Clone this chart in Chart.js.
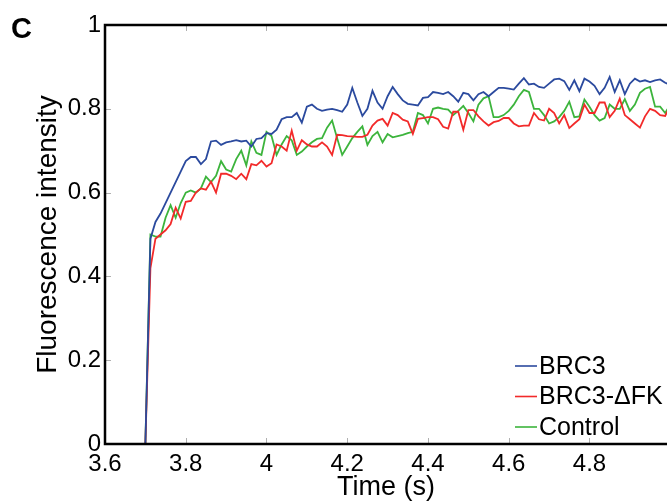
<!DOCTYPE html>
<html>
<head>
<meta charset="utf-8">
<script src="https://cdn.jsdelivr.net/npm/chart.js@4.4.1/dist/chart.umd.min.js"></script>
<style>
  html, body { margin: 0; padding: 0; background: #fff; }
  #wrap { width: 667px; height: 503px; }
</style>
</head>
<body>
<div id="wrap"><canvas id="fluoChart" width="667" height="503"></canvas></div>
<script>
// time points (s)
const times = [3.7, 3.7125, 3.725, 3.7375, 3.75, 3.7625, 3.775, 3.7875, 3.8, 3.8125,
  3.825, 3.8375, 3.85, 3.8625, 3.875, 3.8875, 3.9, 3.9125, 3.925, 3.9375,
  3.95, 3.9625, 3.975, 3.9875, 4.0, 4.0125, 4.025, 4.0375, 4.05, 4.0625,
  4.075, 4.0875, 4.1, 4.1125, 4.125, 4.1375, 4.15, 4.1625, 4.175, 4.1875,
  4.2, 4.2125, 4.225, 4.2375, 4.25, 4.2625, 4.275, 4.2875, 4.3, 4.3125,
  4.325, 4.3375, 4.35, 4.3625, 4.375, 4.3875, 4.4, 4.4125, 4.425, 4.4375,
  4.45, 4.4625, 4.475, 4.4875, 4.5, 4.5125, 4.525, 4.5375, 4.55, 4.5625,
  4.575, 4.5875, 4.6, 4.6125, 4.625, 4.6375, 4.65, 4.6625, 4.675, 4.6875,
  4.7, 4.7125, 4.725, 4.7375, 4.75, 4.7625, 4.775, 4.7875, 4.8, 4.8125,
  4.825, 4.8375, 4.85, 4.8625, 4.875, 4.8875, 4.9, 4.9125, 4.925, 4.9375,
  4.95, 4.9625, 4.975, 4.9875, 5.0];

const brc3 = [0.0, 0.49, 0.53, 0.55, 0.575, 0.60, 0.625, 0.65, 0.675, 0.685,
  0.685, 0.668, 0.68, 0.722, 0.724, 0.714, 0.72, 0.722, 0.725, 0.722,
  0.724, 0.71, 0.728, 0.73, 0.742, 0.74, 0.75, 0.775, 0.78, 0.78,
  0.79, 0.767, 0.805, 0.81, 0.80, 0.795, 0.798, 0.80, 0.797, 0.793,
  0.81, 0.85, 0.815, 0.783, 0.80, 0.843, 0.815, 0.80, 0.83, 0.852,
  0.835, 0.82, 0.812, 0.81, 0.808, 0.826, 0.828, 0.84, 0.838, 0.835,
  0.84, 0.83, 0.817, 0.838, 0.835, 0.82, 0.835, 0.84, 0.83, 0.84,
  0.85, 0.85, 0.848, 0.846, 0.86, 0.873, 0.858, 0.86, 0.852, 0.85,
  0.86, 0.87, 0.872, 0.866, 0.845, 0.868, 0.842, 0.872, 0.865, 0.855,
  0.835, 0.85, 0.876, 0.84, 0.868, 0.835, 0.86, 0.872, 0.865, 0.868,
  0.864, 0.868, 0.87, 0.862, 0.857];

const brc3dFK = [0.0, 0.42, 0.49, 0.50, 0.51, 0.525, 0.564, 0.538, 0.578, 0.58,
  0.60, 0.61, 0.607, 0.626, 0.60, 0.645, 0.645, 0.64, 0.632, 0.645,
  0.632, 0.668, 0.665, 0.676, 0.662, 0.67, 0.715, 0.71, 0.70, 0.748,
  0.70, 0.725, 0.715, 0.71, 0.71, 0.72, 0.71, 0.69, 0.738, 0.737,
  0.735, 0.734, 0.733, 0.733, 0.738, 0.76, 0.772, 0.776, 0.76, 0.79,
  0.785, 0.774, 0.77, 0.74, 0.776, 0.778, 0.78, 0.78, 0.775, 0.757,
  0.753, 0.793, 0.793, 0.75, 0.797, 0.797, 0.782, 0.77, 0.76, 0.768,
  0.771, 0.778, 0.778, 0.765, 0.758, 0.76, 0.76, 0.79, 0.775, 0.772,
  0.80, 0.79, 0.765, 0.785, 0.754, 0.765, 0.775, 0.81, 0.79, 0.79,
  0.815, 0.815, 0.78, 0.795, 0.824, 0.785, 0.775, 0.765, 0.755, 0.782,
  0.80, 0.795, 0.785, 0.783, 0.807];

const control = [0.0, 0.50, 0.495, 0.495, 0.54, 0.57, 0.54, 0.575, 0.60, 0.605,
  0.60, 0.61, 0.638, 0.625, 0.64, 0.675, 0.655, 0.65, 0.68, 0.70,
  0.665, 0.722, 0.695, 0.69, 0.745, 0.735, 0.69, 0.715, 0.735, 0.725,
  0.69, 0.698, 0.71, 0.72, 0.728, 0.73, 0.755, 0.772, 0.73, 0.69,
  0.71, 0.73, 0.745, 0.758, 0.714, 0.735, 0.745, 0.72, 0.74, 0.732,
  0.735, 0.738, 0.742, 0.745, 0.79, 0.785, 0.765, 0.80, 0.803, 0.80,
  0.798, 0.785, 0.795, 0.807, 0.79, 0.77, 0.81, 0.825, 0.83, 0.78,
  0.78, 0.785, 0.795, 0.81, 0.83, 0.845, 0.84, 0.80, 0.80, 0.785,
  0.765, 0.77, 0.78, 0.795, 0.817, 0.78, 0.782, 0.822, 0.805, 0.785,
  0.772, 0.778, 0.81, 0.80, 0.80, 0.823, 0.795, 0.81, 0.838, 0.848,
  0.852, 0.805, 0.805, 0.79, 0.81];

const xTicks = [3.6, 3.8, 4.0, 4.2, 4.4, 4.6, 4.8];
const yTicks = [0, 0.2, 0.4, 0.6, 0.8, 1];
const seriesNames = ['BRC3', 'BRC3-\u0394FK', 'Control'];
const seriesColors = ['#2b4a9e', '#f22a2a', '#3cb43c'];

const FONT = '"Liberation Sans", Arial, Helvetica, sans-serif';

function toPoints(vals) {
  return vals.map((v, i) => ({ x: times[i], y: v }));
}

// frame, inward tick marks, panel letter and legend
const decorPlugin = {
  id: 'decor',
  afterDatasetsDraw(chart) {
    const ctx = chart.ctx;
    const a = chart.chartArea;
    const xs = chart.scales.x, ys = chart.scales.y;
    ctx.save();

    // inward ticks
    ctx.strokeStyle = '#b0b0b0';
    ctx.lineWidth = 1;
    ctx.beginPath();
    xTicks.forEach(t => {
      const px = Math.round(xs.getPixelForValue(t)) + 0.5;
      ctx.moveTo(px, a.bottom); ctx.lineTo(px, a.bottom - 6);
      ctx.moveTo(px, a.top); ctx.lineTo(px, a.top + 6);
    });
    yTicks.forEach(t => {
      const py = Math.round(ys.getPixelForValue(t)) + 0.5;
      ctx.moveTo(a.left, py); ctx.lineTo(a.left + 6, py);
    });
    ctx.stroke();

    // frame (right side falls off the canvas)
    ctx.strokeStyle = '#000';
    ctx.lineWidth = 2.5;
    ctx.beginPath();
    ctx.moveTo(a.right + 5, a.top);
    ctx.lineTo(a.left, a.top);
    ctx.lineTo(a.left, a.bottom);
    ctx.lineTo(a.right + 5, a.bottom);
    ctx.stroke();

    // legend
    ctx.font = '25px ' + FONT;
    ctx.textBaseline = 'middle';
    ctx.textAlign = 'left';
    chart.data.datasets.forEach((ds, i) => {
      const y = a.bottom - 78 + i * 30.5;
      const x0 = a.right - 152;
      ctx.strokeStyle = ds.borderColor;
      ctx.lineWidth = 1.6;
      ctx.beginPath();
      ctx.moveTo(x0, y); ctx.lineTo(x0 + 22, y);
      ctx.stroke();
      ctx.fillStyle = '#000';
      ctx.fillText(ds.label, x0 + 24, y + 1);
    });

    // panel letter
    ctx.font = 'bold 29px ' + FONT;
    ctx.textBaseline = 'alphabetic';
    ctx.fillText('C', 11, 38);
    ctx.restore();
  }
};

new Chart(document.getElementById('fluoChart'), {
  type: 'line',
  data: {
    datasets: [brc3, brc3dFK, control].map((vals, i) => ({
      label: seriesNames[i],
      data: toPoints(vals),
      borderColor: seriesColors[i],
      backgroundColor: seriesColors[i],
      borderWidth: 1.8,
      pointRadius: 0,
      tension: 0,
      fill: false
    }))
  },
  options: {
    responsive: false,
    animation: false,
    layout: { padding: { top: 25, left: 0, right: 0, bottom: 0 } },
    plugins: {
      legend: { display: false },
      tooltip: { enabled: false }
    },
    scales: {
      x: {
        type: 'linear',
        min: 3.6,
        max: 4.992,
        afterBuildTicks(scale) { scale.ticks = xTicks.map(v => ({ value: v })); },
        afterFit(scale) { scale.height = 59; },
        grid: { display: false, drawTicks: false },
        border: { display: false },
        ticks: {
          padding: 6,
          color: '#000',
          font: { family: FONT, size: 24 },
          callback: v => String(Math.round(v * 10) / 10)
        },
        title: {
          display: true,
          text: 'Time (s)',
          color: '#000',
          font: { family: FONT, size: 27 },
          padding: { top: 0, bottom: -1 }
        }
      },
      y: {
        min: 0,
        max: 1,
        afterBuildTicks(scale) { scale.ticks = yTicks.map(v => ({ value: v })); },
        afterFit(scale) { scale.width = 105; },
        grid: { display: false, drawTicks: false },
        border: { display: false },
        ticks: {
          padding: 4,
          color: '#000',
          font: { family: FONT, size: 24 },
          callback: v => String(Math.round(v * 10) / 10)
        },
        title: {
          display: true,
          text: 'Fluorescence intensity',
          color: '#000',
          font: { family: FONT, size: 28 },
          padding: { top: 31, bottom: 0 }
        }
      }
    }
  },
  plugins: [decorPlugin]
});
</script>
</body>
</html>
